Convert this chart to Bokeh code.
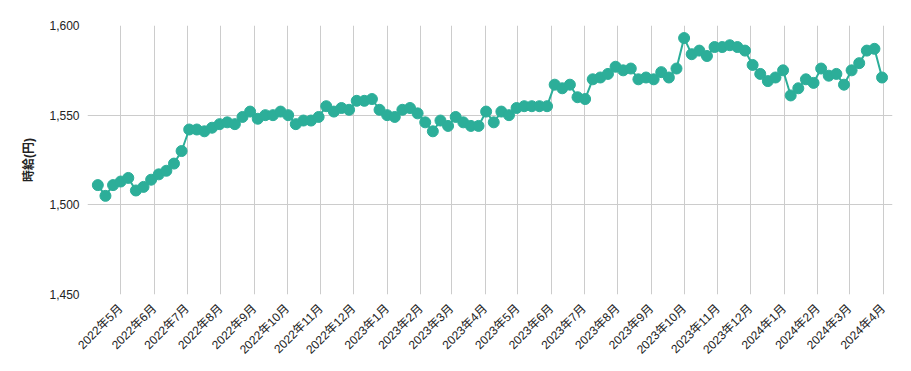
import math
import pandas as pd
from bokeh.plotting import figure
from bokeh.models import FixedTicker, NumeralTickFormatter, Range1d
from bokeh.embed import file_html
from bokeh.resources import INLINE

# ---- data ----
first_week = "2022-04-10"
values = [1511, 1505, 1511, 1513, 1515, 1508, 1510, 1514, 1517, 1519,
          1523, 1530, 1542, 1542, 1541, 1543, 1545, 1546, 1545, 1549,
          1552, 1548, 1550, 1550, 1552, 1550, 1545, 1547, 1547, 1549,
          1555, 1552, 1554, 1553, 1558, 1558, 1559, 1553, 1550, 1549,
          1553, 1554, 1551, 1546, 1541, 1547, 1544, 1549, 1546, 1544,
          1544, 1552, 1546, 1552, 1550, 1554, 1555, 1555, 1555, 1555,
          1567, 1565, 1567, 1560, 1559, 1570, 1571, 1573, 1577, 1575,
          1576, 1570, 1571, 1570, 1574, 1571, 1576, 1593, 1584, 1586,
          1583, 1588, 1588, 1589, 1588, 1586, 1578, 1573, 1569, 1571,
          1575, 1561, 1565, 1570, 1568, 1576, 1572, 1573, 1567, 1575,
          1579, 1586, 1587, 1571]
tick_labels = ["2022年5月", "2022年6月", "2022年7月", "2022年8月", "2022年9月",
               "2022年10月", "2022年11月", "2022年12月", "2023年1月", "2023年2月",
               "2023年3月", "2023年4月", "2023年5月", "2023年6月", "2023年7月",
               "2023年8月", "2023年9月", "2023年10月", "2023年11月", "2023年12月",
               "2024年1月", "2024年2月", "2024年3月", "2024年4月"]
y_ticks = [1450, 1500, 1550, 1600]
y_title = "時給(円)"

dates = pd.date_range(first_week, periods=len(values), freq="7D")
tick_dates = pd.date_range("2022-05-01", periods=len(tick_labels), freq="MS")
tick_ms = [int(d.value // 10**6) for d in tick_dates]

color = "#2cae99"
font = "Liberation Sans, Noto Sans CJK JP"
text_color = "#222222"

x_start = dates[0] - pd.Timedelta(days=9.5)
x_end = dates[-1] + pd.Timedelta(days=9.6)

p = figure(width=903, height=366, x_axis_type="datetime",
           output_backend="svg", toolbar_location=None,
           x_range=Range1d(x_start, x_end), y_range=Range1d(1450, 1600),
           min_border_left=87, min_border_right=11, min_border_top=25,
           min_border_bottom=72)
p.outline_line_color = None

p.line(dates, values, line_color=color, line_width=2)
p.scatter(dates, values, size=11, fill_color=color, line_color=color)

xa = p.xaxis[0]
xa.ticker = FixedTicker(ticks=tick_ms)
xa.major_label_overrides = {t: l for t, l in zip(tick_ms, tick_labels)}
xa.major_label_orientation = math.pi / 4
xa.axis_line_color = None
xa.major_tick_line_color = None
xa.minor_tick_line_color = None
xa.major_label_text_font = font
xa.major_label_text_font_size = "12px"
xa.major_label_text_color = text_color
xa.major_label_standoff = 6

ya = p.yaxis[0]
ya.ticker = FixedTicker(ticks=y_ticks)
ya.formatter = NumeralTickFormatter(format="0,0")
ya.axis_line_color = None
ya.major_tick_line_color = None
ya.minor_tick_line_color = None
ya.major_label_text_font = font
ya.major_label_text_font_size = "12px"
ya.major_label_text_color = text_color
ya.major_label_standoff = 2
ya.axis_label = y_title
ya.axis_label_text_font = font
ya.axis_label_text_font_style = "bold"
ya.axis_label_text_font_size = "12px"
ya.axis_label_text_color = text_color
ya.axis_label_standoff = 10

p.xgrid.grid_line_color = "#cccccc"
p.ygrid.grid_line_color = "#cccccc"

open("out.html", "w").write(file_html(p, INLINE))
